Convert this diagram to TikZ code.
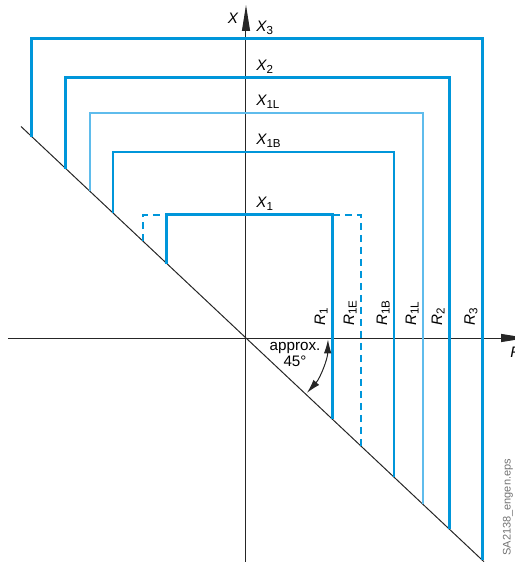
\documentclass[tikz,border=0pt]{standalone}
\usepackage{fontspec}
\setmainfont{Liberation Sans}
\usetikzlibrary{arrows.meta}

\definecolor{lineblue}{RGB}{0,150,218}
\definecolor{paleblue}{RGB}{95,188,236}
\newcommand\idx[1]{\raisebox{-1.3pt}{\upshape\fontsize{5.8}{6}\selectfont #1}}
\newcommand\dslope{0.94}

\tikzstyle{every node}=[font=\fontsize{7.6}{8}\selectfont, inner sep=1pt]
\tikzstyle{axis}=[draw=black!85, line width=0.5pt]
\tikzstyle{heavyline}=[draw=lineblue, line width=1.5pt]
\tikzstyle{thinline}=[draw=lineblue, line width=0.75pt]
\tikzstyle{paleline}=[draw=paleblue, line width=0.75pt]
\tikzstyle{dashline}=[draw=lineblue, line width=1pt, dash pattern=on 3.5pt off 2.5pt]
\tikzstyle{xlabel}=[anchor=south west]
\tikzstyle{rlabel}=[anchor=south west, rotate=90]

\begin{document}
\begin{tikzpicture}[x=0.5pt, y=0.5pt, line join=miter]
    \useasboundingbox (-246,-224) rectangle (268,338);

    % axes and the 45 degree line
    \coordinate (o) at (0,0);
    \draw[axis, -{Triangle[length=13pt,width=4pt]}] (0,-224) -- (0,333);
    \draw[axis, -{Triangle[length=13pt,width=4pt]}] (-238,0) -- (281,0);
    \draw[axis] (-225,{225*\dslope}) -- (238,{-238*\dslope});

    % limits
    \draw[dashline] (-103,{103*\dslope}) |- (115,123) -- (115,{-115*\dslope});
    \draw[heavyline] (-79,{79*\dslope}) |- (86,123) -- (86,{-86*\dslope});
    \draw[thinline] (-133,{133*\dslope}) |- (148,186) -- (148,{-148*\dslope});
    \draw[paleline] (-156,{156*\dslope}) |- (177,225) -- (177,{-177*\dslope});
    \draw[heavyline] (-180,{180*\dslope}) |- (203,260) -- (203,{-203*\dslope});
    \draw[heavyline] (-214,{214*\dslope}) |- (236,299) -- (236,{-236*\dslope});

    \node (xaxis) at (-13,320) {\itshape X};
    \node[anchor=west] (raxis) at (262,-14) {\itshape R};

    \node[xlabel] (x3) at (8,301) {\itshape X\idx{3}};
    \node[xlabel] (x2) at (8,262) {\itshape X\idx{2}};
    \node[xlabel] (x1l) at (8,227) {\itshape X\idx{1L}};
    \node[xlabel] (x1b) at (8,188) {\itshape X\idx{1B}};
    \node[xlabel] (x1) at (8,125) {\itshape X\idx{1}};

    \node[rlabel] (r1) at (84,10) {\itshape R\idx{1}};
    \node[rlabel] (r1e) at (113,10) {\itshape R\idx{1E}};
    \node[rlabel] (r1b) at (146,10) {\itshape R\idx{1B}};
    \node[rlabel] (r1l) at (175,10) {\itshape R\idx{1L}};
    \node[rlabel] (r2) at (201,10) {\itshape R\idx{2}};
    \node[rlabel] (r3) at (234,10) {\itshape R\idx{3}};

    % angle
    \node[align=center] (approx) at (49,-16) {approx.\\45°};
    \draw[axis, {Latex[length=7pt,width=3.8pt]}-{Latex[length=7pt,width=3.8pt]}]
        (-1:41pt) arc[start angle=-1, end angle=-42, radius=41pt];

    \node[rotate=90, anchor=west, text=black!55, font=\fontsize{5.5}{6}\selectfont, inner sep=0pt] (fname) at (262,-218) {SA2138\_engen.eps};
\end{tikzpicture}
\end{document}
